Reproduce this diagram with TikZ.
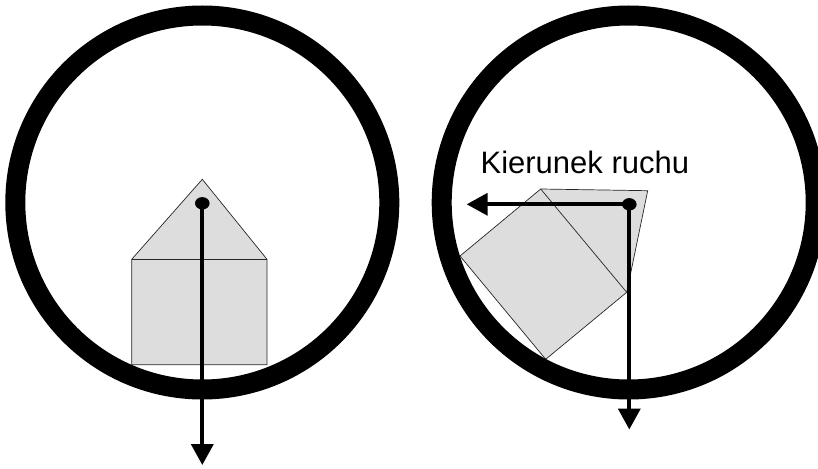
\documentclass[tikz,border=0pt]{standalone}
\usepackage{fontspec}
\setmainfont{Liberation Sans}
\usetikzlibrary{arrows.meta}
\definecolor{housefill}{HTML}{DDDDDD}
\tikzset{
  ring/.style={draw=black, line width=20pt},
  house/.style={fill=housefill, draw=black!85, line width=0.7pt, line join=miter},
  vec/.style={line width=3.7pt, -{Triangle[length=21pt,width=22pt]}},
  cm dot/.style={fill=black},
  label text/.style={inner sep=0pt, anchor=base west, font=\fontsize{31}{37}\selectfont}
}
\begin{document}
\begin{tikzpicture}[x=1pt, y=-1pt]
\useasboundingbox (0,0) rectangle (818,468);
\clip (0,0) rectangle (818,468);
% ---- left wheel ----
\coordinate (c1) at (202.3,202.5);
\coordinate (l-tl) at (131.7,259.3);
\coordinate (l-tr) at (267,259.3);
\coordinate (l-br) at (267,364.7);
\coordinate (l-bl) at (131.7,364.7);
\coordinate (l-apex) at (202.3,179.3);
\coordinate (d1) at (202.3,203.3);
\coordinate (t1) at (202.3,465);
\path[house] (l-tl) -- (l-apex) -- (l-tr) -- (l-br) -- (l-bl) -- cycle;
\draw[black!85, line width=0.7pt] (l-tl) -- (l-tr);
\draw[ring] (c1) circle[radius=187];
\draw[vec] (d1) -- (t1);
\fill[cm dot] (d1) ellipse[x radius=7.3, y radius=6.2];
% ---- right wheel ----
\coordinate (c2) at (628.7,202.5);
\coordinate (r-top) at (540.7,189);
\coordinate (r-apex) at (647.7,190.7);
\coordinate (r-right) at (626.7,292.3);
\coordinate (r-bottom) at (545.7,359.3);
\coordinate (r-left) at (460,256);
\coordinate (d2) at (629.3,204.3);
\coordinate (t2) at (629.3,429.5);
\coordinate (t3) at (466.7,204.3);
\path[house] (r-top) -- (r-apex) -- (r-right) -- (r-bottom) -- (r-left) -- cycle;
\draw[black!85, line width=0.7pt] (r-top) -- (r-right);
\draw[ring] (c2) circle[radius=187];
\draw[vec] (d2) -- (t2);
\draw[vec] (d2) -- (t3);
\fill[cm dot] (d2) ellipse[x radius=7.3, y radius=6.2];
\node[label text] (lbl) at (480.4,173.3) {Kierunek ruchu};
\end{tikzpicture}
\end{document}
